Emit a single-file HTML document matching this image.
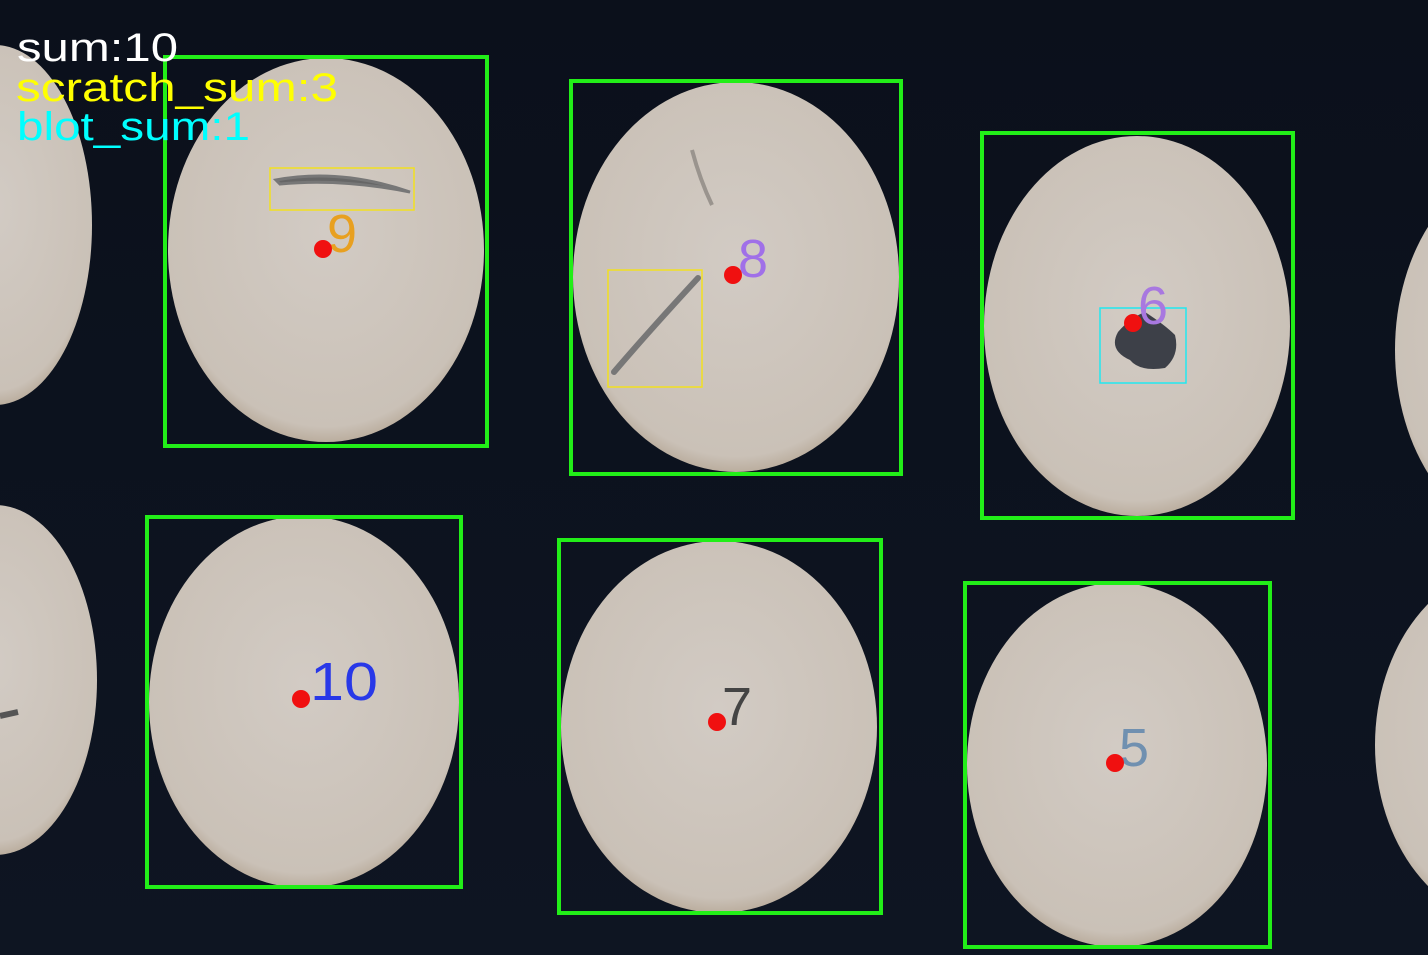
<!DOCTYPE html>
<html><head><meta charset="utf-8">
<style>
html,body{margin:0;padding:0;background:#0c111c;}
svg{display:block;}
text{font-family:"Liberation Sans",sans-serif;}
</style></head>
<body>
<svg width="1428" height="955" viewBox="0 0 1428 955">
  <defs>
    <radialGradient id="disc" cx="50%" cy="45%" r="60%">
      <stop offset="0%" stop-color="#d2cbc4"/>
      <stop offset="85%" stop-color="#cac1b7"/>
      <stop offset="100%" stop-color="#a89680"/>
    </radialGradient>
    <linearGradient id="bg" x1="0" y1="0" x2="0" y2="1">
      <stop offset="0%" stop-color="#0b101b"/>
      <stop offset="100%" stop-color="#0e1522"/>
    </linearGradient>
  </defs>
  <rect width="1428" height="955" fill="url(#bg)"/>

  <ellipse cx="-5" cy="225" rx="97" ry="180" fill="url(#disc)"/>
  <ellipse cx="-5" cy="680" rx="102" ry="175" fill="url(#disc)"/>
  <ellipse cx="1525" cy="350" rx="130" ry="185" fill="url(#disc)"/>
  <ellipse cx="1515" cy="745" rx="140" ry="180" fill="url(#disc)"/>

  <ellipse cx="326" cy="250" rx="158" ry="192" fill="url(#disc)"/>
  <ellipse cx="736" cy="277" rx="163" ry="195" fill="url(#disc)"/>
  <ellipse cx="1137" cy="326" rx="153" ry="190" fill="url(#disc)"/>
  <ellipse cx="304" cy="702" rx="155" ry="186" fill="url(#disc)"/>
  <ellipse cx="719" cy="727" rx="158" ry="186" fill="url(#disc)"/>
  <ellipse cx="1117" cy="765" rx="150" ry="182" fill="url(#disc)"/>

  <path d="M276 180 Q340 168 410 192 Q340 178 280 184 Z" fill="#666" stroke="#777" stroke-width="3"/>
  <path d="M698 278 Q650 330 614 372" stroke="#777" stroke-width="6" fill="none" stroke-linecap="round"/>
  <path d="M692 150 Q700 180 712 205" stroke="#9a948e" stroke-width="4" fill="none"/>
  <path d="M0 716 L18 712" stroke="#555" stroke-width="6"/>
  <path d="M1145 312 Q1165 325 1175 335 Q1180 355 1165 368 Q1140 372 1130 360 Q1108 350 1118 332 Q1130 318 1145 312 Z" fill="#3d4048"/>

  <g fill="none" stroke="#22ee18" stroke-width="4">
    <rect x="165" y="57" width="322" height="389"/>
    <rect x="571" y="81" width="330" height="393"/>
    <rect x="982" y="133" width="311" height="385"/>
    <rect x="147" y="517" width="314" height="370"/>
    <rect x="559" y="540" width="322" height="373"/>
    <rect x="965" y="583" width="305" height="364"/>
  </g>

  <rect x="270" y="168" width="144" height="42" fill="none" stroke="#f2e020" stroke-width="1.5"/>
  <rect x="608" y="270" width="94" height="117" fill="none" stroke="#f2e020" stroke-width="1.5"/>
  <rect x="1100" y="308" width="86" height="75" fill="none" stroke="#20e8f0" stroke-width="1.5"/>

  <g font-size="54" font-weight="normal" stroke-width="0">
    <text x="327" y="252" fill="#e8a020">9</text>
    <text x="738" y="277" fill="#a070e8">8</text>
    <text x="1138" y="324" fill="#a878e0">6</text>
    <text x="310" y="700" fill="#2838e8" textLength="68" lengthAdjust="spacingAndGlyphs">10</text>
    <text x="722" y="725" fill="#444">7</text>
    <text x="1119" y="766" fill="#7090b0">5</text>
  </g>

  <g fill="#f01010">
    <circle cx="323" cy="249" r="9"/>
    <circle cx="733" cy="275" r="9"/>
    <circle cx="1133" cy="323" r="9"/>
    <circle cx="301" cy="699" r="9"/>
    <circle cx="717" cy="722" r="9"/>
    <circle cx="1115" cy="763" r="9"/>
  </g>

  <g font-size="40">
    <text x="17" y="61" fill="#ffffff" textLength="161" lengthAdjust="spacingAndGlyphs">sum:10</text>
    <text x="16" y="101" fill="#ffff00" textLength="322" lengthAdjust="spacingAndGlyphs">scratch_sum:3</text>
    <text x="17" y="140" fill="#00ffff" textLength="233" lengthAdjust="spacingAndGlyphs">blot_sum:1</text>
  </g>
</svg>
</body></html>
